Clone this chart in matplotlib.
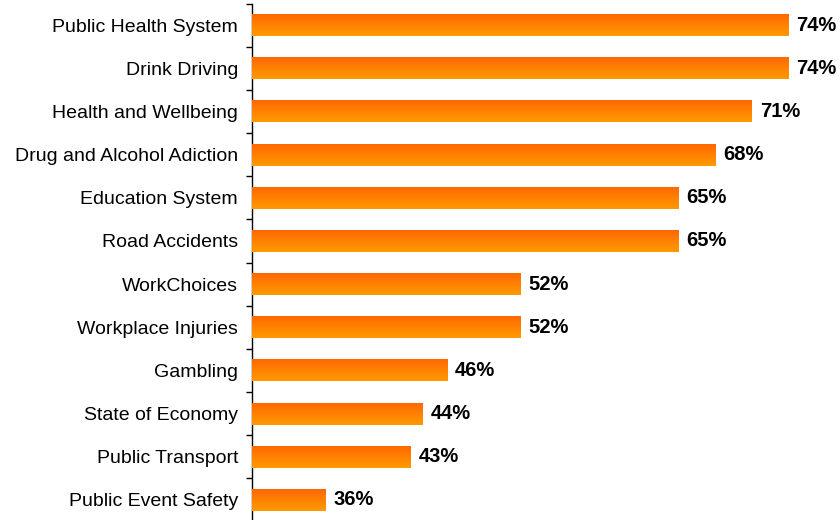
import numpy as np
from matplotlib import pyplot as plt
from matplotlib.colors import LinearSegmentedColormap

categories = ["Public Health System", "Drink Driving", "Health and Wellbeing",
              "Drug and Alcohol Adiction", "Education System", "Road Accidents",
              "WorkChoices", "Workplace Injuries", "Gambling", "State of Economy",
              "Public Transport", "Public Event Safety"]
values = [74, 74, 71, 68, 65, 65, 52, 52, 46, 44, 43, 36]
axis_start = 30

plt.rcParams['font.family'] = ['Liberation Sans', 'DejaVu Sans']

fig = plt.figure(figsize=(8.4, 5.2), dpi=100)
ax = fig.add_axes([252 / 840, -1.5 / 520, 573 / 840, 518 / 520])

cmap = LinearSegmentedColormap.from_list("org", ["#ff9a00", "#ff6600"])
grad = np.linspace(0, 1, 64).reshape(-1, 1)

ypos = np.arange(len(categories))
widths = [v - axis_start for v in values]
bars = ax.barh(ypos, widths, height=0.51, color="#ff8000", left=axis_start)
for b in bars:
    x0, y0 = b.get_x(), b.get_y()
    im = ax.imshow(grad, cmap=cmap, aspect='auto', origin='lower',
                   extent=(x0, x0 + b.get_width(), y0 + b.get_height(), y0),
                   zorder=3)
    im.set_clip_path(b)

for y, v in zip(ypos, values):
    ax.text(v + 0.65, y, f"{v}%", va='center', ha='left', fontsize=14.5,
            fontweight='bold', color='black')

ax.set_xlim(axis_start, 77)
ax.set_ylim(len(categories) - 0.5, -0.5)
ax.set_yticks(ypos)
ax.set_yticklabels(categories, fontsize=14)
ax.set_yticks(np.arange(len(categories) + 1) - 0.5, minor=True)
ax.tick_params(axis='y', which='major', length=0, pad=10)
ax.tick_params(axis='y', which='minor', length=4.5, width=1, direction='out')
ax.set_xticks([])
for s in ['top', 'right', 'bottom']:
    ax.spines[s].set_visible(False)
ax.spines['left'].set_linewidth(1)

fig.savefig("out.png", dpi=100)
